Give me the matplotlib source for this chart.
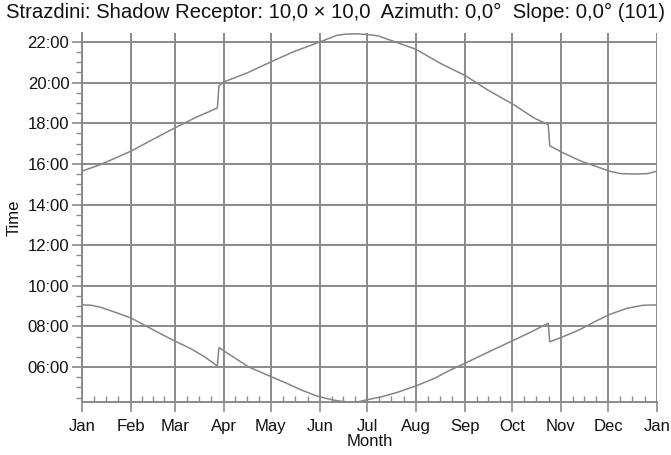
import matplotlib
matplotlib.use("Agg")
import matplotlib.pyplot as plt
import numpy as np

plt.rcParams['font.family'] = ['Liberation Sans', 'DejaVu Sans']

# day of year (0 = 1 Jan) and decimal hours
sunset_day = [0, 12, 31, 45, 59, 73, 86, 87, 90, 105, 120, 134, 151, 162, 168, 175,
              181, 188, 198, 212, 228, 243, 258, 274, 287, 296, 297, 305, 317, 335,
              342, 352, 359, 365]
sunset_h = [15.64, 15.97, 16.62, 17.20, 17.77, 18.31, 18.75, 19.84, 20.03, 20.48,
            21.02, 21.51, 22.00, 22.33, 22.39, 22.40, 22.37, 22.30, 22.03, 21.64,
            20.93, 20.36, 19.62, 18.92, 18.26, 17.93, 16.89, 16.56, 16.13, 15.64,
            15.52, 15.50, 15.52, 15.64]

sunrise_day = [0, 6, 12, 21, 31, 40, 50, 59, 69, 78, 86, 87, 90, 106, 120, 130,
               139, 150, 160, 166, 172, 176, 181, 191, 200, 212, 224, 233, 243, 257,
               274, 285, 296, 297, 305, 316, 327, 335, 346, 356, 365]
sunrise_h = [9.06, 9.04, 8.94, 8.70, 8.42, 8.05, 7.64, 7.28, 6.91, 6.50, 6.05,
             6.96, 6.80, 6.00, 5.53, 5.20, 4.88, 4.55, 4.37, 4.30, 4.28, 4.30,
             4.39, 4.55, 4.75, 5.07, 5.45, 5.82, 6.18, 6.70, 7.32, 7.72, 8.16,
             7.24, 7.48, 7.84, 8.29, 8.59, 8.89, 9.04, 9.06]

month_start = [0, 31, 59, 90, 120, 151, 181, 212, 243, 273, 304, 334, 365]
month_lbl = ['Jan', 'Feb', 'Mar', 'Apr', 'May', 'Jun', 'Jul', 'Aug', 'Sep',
             'Oct', 'Nov', 'Dec', 'Jan']
hour_ticks = [6, 8, 10, 12, 14, 16, 18, 20, 22]

gc = '#8a8a8a'
fig = plt.figure(figsize=(6.71, 4.55), dpi=100)
ax = fig.add_axes([0.122, 0.1165, 0.857, 0.81])

ax.plot(sunset_day, sunset_h, color='#858585', lw=1.1, zorder=3)
ax.plot(sunrise_day, sunrise_h, color='#858585', lw=1.1, zorder=3)

ax.set_xlim(0, 365)
ax.set_ylim(4.28, 22.42)

ax.set_xticks(month_start)
ax.set_xticklabels(month_lbl)
minor_x = []
for a, b in zip(month_start[:-1], month_start[1:]):
    for k in (1, 2, 3):
        minor_x.append(a + (b - a) * k / 4)
ax.set_xticks(minor_x, minor=True)

ax.set_yticks(hour_ticks)
ax.set_yticklabels(['%02d:00' % h for h in hour_ticks])
ax.set_yticks(np.arange(4.5, 22.4, 0.5), minor=True)

ax.grid(True, which='major', color=gc, lw=1.4)
for s in ['top', 'right']:
    ax.spines[s].set_visible(False)
for s in ['left', 'bottom']:
    ax.spines[s].set_color(gc)
    ax.spines[s].set_linewidth(1.4)

ax.tick_params(axis='both', which='major', direction='out', length=7, width=1.2,
               color=gc, labelsize=12, labelcolor='#111111')
ax.tick_params(axis='y', which='major', pad=2)
ax.tick_params(axis='x', which='major', pad=5)
ax.tick_params(axis='y', which='minor', direction='out', length=4, width=1.0, color=gc)
ax.tick_params(axis='x', which='minor', direction='in', length=4, width=1.0, color=gc)

ax.set_xlabel('Month', fontsize=12, labelpad=0, color='#111111')
ax.set_ylabel('Time', fontsize=12, labelpad=4, color='#111111')

fig.text(0.5, 0.972, 'Strazdini: Shadow Receptor: 10,0 × 10,0  Azimuth: 0,0°  Slope: 0,0° (101)',
         ha='center', va='center', fontsize=14.6, color='#111111')

fig.savefig('out.png', dpi=100)
